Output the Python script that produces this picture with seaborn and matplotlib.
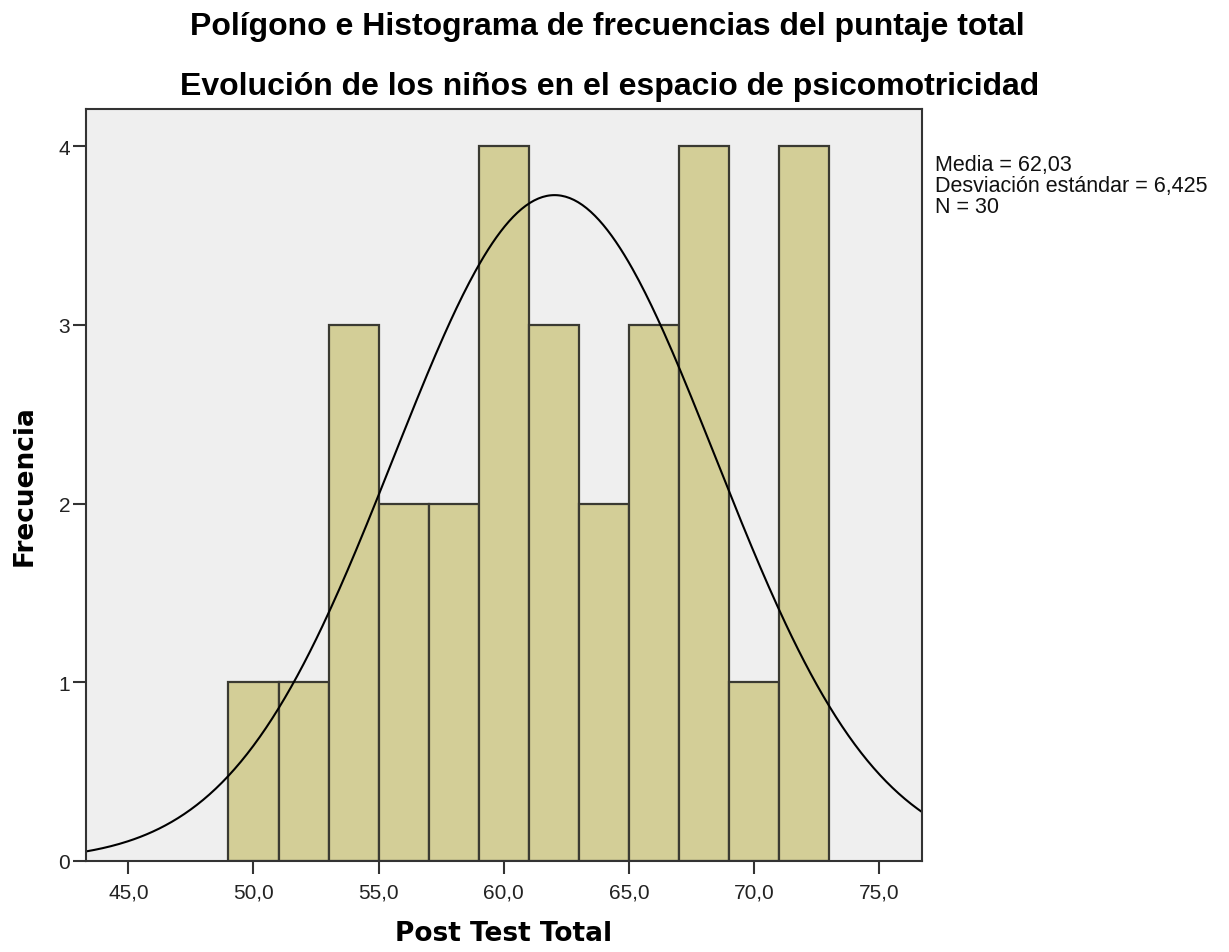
import numpy as np
import pandas as pd
import seaborn as sns
import matplotlib.pyplot as plt

# Histogram data (bin width 2)
bin_edges = [49, 51, 53, 55, 57, 59, 61, 63, 65, 67, 69, 71, 73]
counts = [1, 1, 3, 2, 2, 4, 3, 2, 3, 4, 1, 4]

media = 62.03
desv = 6.425
n_total = 30

x_ticks = [45, 50, 55, 60, 65, 70, 75]
x_tick_labels = ['45,0', '50,0', '55,0', '60,0', '65,0', '70,0', '75,0']
y_ticks = [0, 1, 2, 3, 4]

stats_lines = ['Media = 62,03', 'Desviación estándar = 6,425', 'N = 30']

df = pd.DataFrame({
    'centro': [(a + b) / 2 for a, b in zip(bin_edges[:-1], bin_edges[1:])],
    'frecuencia': counts,
})

sns.set_theme(style="white")
plt.rcParams['font.family'] = ['Liberation Sans', 'DejaVu Sans']
plt.rcParams['text.color'] = 'black'
plt.rcParams['axes.labelcolor'] = 'black'

fig = plt.figure(figsize=(12.29, 9.53), dpi=100)
ax = fig.add_axes([0.070, 0.0955, 0.680, 0.789])
ax.set_facecolor('#EFEFEF')

sns.histplot(
    data=df, x='centro', weights='frecuencia', bins=bin_edges,
    color='#D3CE97', edgecolor='#3A3A32', linewidth=1.6, alpha=1, ax=ax,
)

# Normal curve scaled to counts
bw = bin_edges[1] - bin_edges[0]
xs = np.linspace(43.3, 76.7, 400)
ys = n_total * bw / (desv * np.sqrt(2 * np.pi)) * np.exp(-0.5 * ((xs - media) / desv) ** 2)
sns.lineplot(x=xs, y=ys, color='black', linewidth=1.5, ax=ax)

ax.set_xlim(43.31, 76.70)
ax.set_ylim(0, 4.207)
ax.set_xticks(x_ticks)
ax.set_xticklabels(x_tick_labels)
ax.set_yticks(y_ticks)
ax.tick_params(axis='both', direction='out', length=9.5, width=1.5, color='#333333',
               labelsize=15, labelcolor='#222222')
ax.tick_params(axis='x', pad=6)
ax.tick_params(axis='y', pad=2)
ax.tick_params(bottom=True, left=True)

for sp in ax.spines.values():
    sp.set_color('#333333')
    sp.set_linewidth(1.5)

ax.set_xlabel('Post Test Total', fontsize=19, fontweight='bold', family='DejaVu Sans')
ax.set_ylabel('Frecuencia', fontsize=19, fontweight='bold', family='DejaVu Sans')
ax.xaxis.set_label_coords(0.5, -0.078)
ax.yaxis.set_label_coords(-0.058, 0.5)

fig.text(0.4945, 1 - 35 / 953, 'Polígono e Histograma de frecuencias del puntaje total',
         ha='center', va='baseline', fontsize=23, fontweight='bold')
fig.text(0.496, 1 - 95 / 953, 'Evolución de los niños en el espacio de psicomotricidad',
         ha='center', va='baseline', fontsize=23, fontweight='bold')

for i, line in enumerate(stats_lines):
    fig.text(935 / 1229, 1 - (171 + 21 * i) / 953, line,
             ha='left', va='baseline', fontsize=15.5, color='#111111')

fig.savefig('out.png', dpi=100)
